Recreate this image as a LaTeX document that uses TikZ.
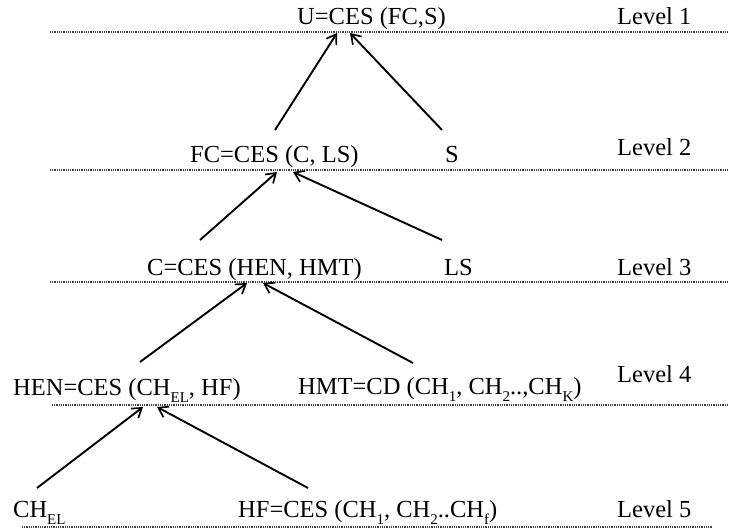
\documentclass[tikz,border=0pt]{standalone}
\usepackage{fontspec}
\setmainfont{Liberation Serif}
\usetikzlibrary{arrows.meta}
\newcommand\lowsub[1]{\raisebox{-0.32em}{\fontsize{15}{15}\selectfont #1}}
\tikzset{
  lbl/.style={anchor=base west, inner sep=0pt, font=\fontsize{24.5}{29}\selectfont},
  levelline/.style={line width=1.1pt, black!75, dash pattern=on 1pt off 0.8pt},
  link/.style={line width=1.9pt, -{Straight Barb[length=9pt,width=12pt,line width=1.7pt]}}
}
\begin{document}
\begin{tikzpicture}[x=1pt,y=-1pt]
\useasboundingbox (0,0) rectangle (729,532);
% level lines
\draw[levelline] (50,32) -- (729,32);
\draw[levelline] (50,170) -- (729,170);
\draw[levelline] (50,282) -- (729,282);
\draw[levelline] (52,405) -- (729,405);
\draw[levelline] (22,527) -- (712,527);
% texts
\node[lbl] (u)   at (297,25)  {U=CES (FC,S)};
\node[lbl] (l1)  at (617,25)  {Level 1};
\node[lbl] (fc)  at (190,163) {FC=CES (C, LS)};
\node[lbl] (s)   at (445,163) {S};
\node[lbl] (l2)  at (617,156) {Level 2};
\node[lbl] (c)   at (147,275) {C=CES (HEN, HMT)};
\node[lbl] (ls)  at (444,275) {LS};
\node[lbl] (l3)  at (617,275) {Level 3};
\node[lbl] (hen) at (13,395)  {HEN=CES (CH\lowsub{EL}, HF)};
\node[lbl] (hmt) at (298,394) {HMT=CD (CH\lowsub{1}, CH\lowsub{2}..,CH\lowsub{K})};
\node[lbl] (l4)  at (617,382) {Level 4};
\node[lbl] (chel) at (13,517) {CH\lowsub{EL}};
\node[lbl] (hf)  at (238,517) {HF=CES (CH\lowsub{1}, CH\lowsub{2}..CH\lowsub{f})};
\node[lbl] (l5)  at (617,517) {Level 5};
% connector ends
\coordinate (fcOut) at (275,130);
\coordinate (sOut) at (442,130);
\coordinate (uInA) at (337,33);
\coordinate (uInB) at (350,33);
\coordinate (cOut) at (200,240);
\coordinate (lsOut) at (442,240);
\coordinate (fcInA) at (277,172);
\coordinate (fcInB) at (293,172);
\coordinate (henOut) at (140,362);
\coordinate (hmtOut) at (413,363);
\coordinate (cInA) at (247,283);
\coordinate (cInB) at (263,283);
\coordinate (chelOut) at (37,488);
\coordinate (hfOut) at (308,488);
\coordinate (henInA) at (143,407);
\coordinate (henInB) at (157,407);
% connectors
\draw[link] (fcOut) -- (uInA);
\draw[link] (sOut) -- (uInB);
\draw[link] (cOut) -- (fcInA);
\draw[link] (lsOut) -- (fcInB);
\draw[link] (henOut) -- (cInA);
\draw[link] (hmtOut) -- (cInB);
\draw[link] (chelOut) -- (henInA);
\draw[link] (hfOut) -- (henInB);
\end{tikzpicture}
\end{document}
